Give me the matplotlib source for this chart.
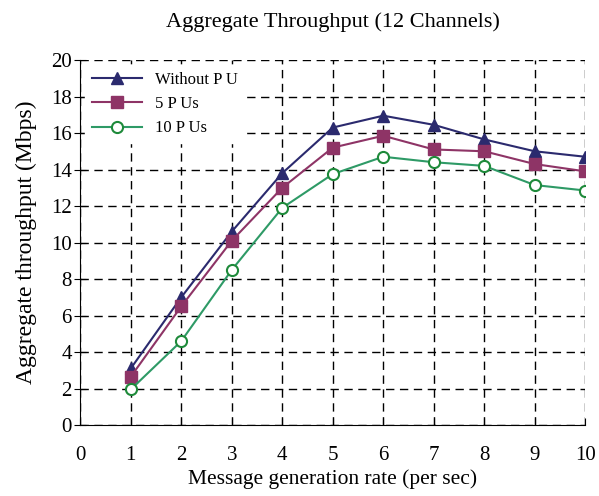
import matplotlib
matplotlib.use("Agg")
import matplotlib.pyplot as plt

plt.rcParams['font.family'] = ['Liberation Serif', 'DejaVu Serif']

rate = [1, 2, 3, 4, 5, 6, 7, 8, 9, 10]
without_pu = [3.1, 7.0, 10.6, 13.8, 16.3, 16.95, 16.45, 15.65, 15.0, 14.7]
pu5 = [2.65, 6.5, 10.1, 13.0, 15.2, 15.85, 15.1, 15.0, 14.3, 13.9]
pu10 = [1.95, 4.6, 8.5, 11.9, 13.75, 14.7, 14.4, 14.2, 13.15, 12.85]

fig = plt.figure(figsize=(5.99, 4.96), dpi=100)
ax = fig.add_axes([0.134, 0.143, 0.843, 0.736])

ax.plot(rate, without_pu, color='#2b2a6e', marker='^', markersize=9, lw=1.5, label='Without P U')
ax.plot(rate, pu5, color='#8e3466', marker='s', markersize=8, lw=1.5, label='5 P Us')
ax.plot(rate, pu10, color='#2e9a66', marker='o', markersize=8, lw=1.5,
        markerfacecolor='white', markeredgecolor='#1e8a3a', markeredgewidth=1.5, label='10 P Us')

ax.set_xlim(0, 10)
ax.set_ylim(0, 20)
ax.set_xticks(range(0, 11))
ax.set_yticks(range(0, 21, 2))
ax.grid(True, color='black', linestyle=(0, (6, 4)), linewidth=1)
ax.spines['top'].set_visible(False)
ax.spines['right'].set_visible(False)
ax.tick_params(axis='x', direction='in', length=5, pad=15, labelsize=15)
ax.tick_params(axis='y', direction='inout', length=8, pad=2, labelsize=15)

ax.set_title('Aggregate Throughput (12 Channels)', fontsize=16, pad=24)
ax.set_xlabel('Message generation rate (per sec)', fontsize=15.5, labelpad=3)
ax.set_ylabel('Aggregate throughput (Mbps)', fontsize=17, labelpad=10)

ax.legend(loc='upper left', frameon=True, framealpha=1, edgecolor='white', fontsize=12,
          handlelength=3, borderaxespad=0.3)

fig.savefig('out.png', dpi=100)
